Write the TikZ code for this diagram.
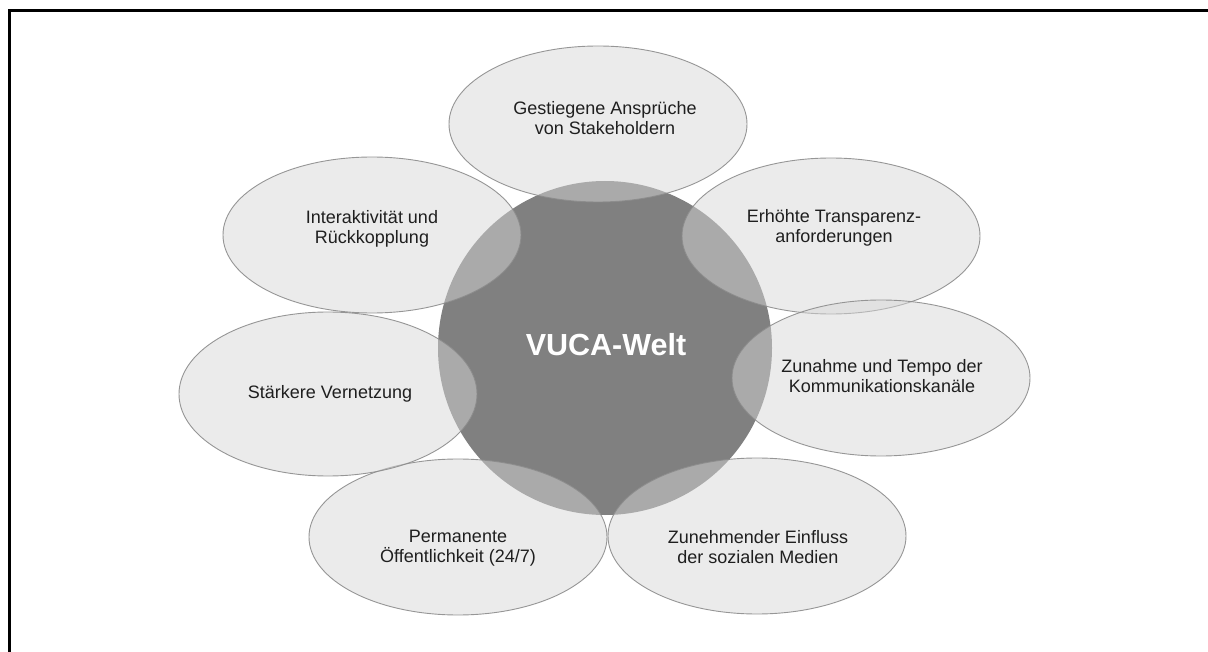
\documentclass[tikz,border=0pt]{standalone}
\usepackage{fontspec}
\setmainfont{Liberation Sans}
\usetikzlibrary{shapes.geometric, positioning}
\definecolor{petalFill}{HTML}{D6D6D6}
\definecolor{petalLine}{HTML}{8C8C8C}
\definecolor{coreFill}{HTML}{808080}
\tikzset{
  vucaCore/.style={circle, minimum size=334pt, inner sep=0pt, fill=coreFill, draw=none},
  vucaPetal/.style={ellipse, inner sep=0pt, minimum width=298pt, minimum height=156pt, fill=petalFill, fill opacity=0.49, draw=petalLine, draw opacity=0.9, line width=0.9pt},
  vucaText/.style={align=center, font=\fontsize{18}{20}\selectfont, text=black!88},
  vucaTitle/.style={align=center, font=\fontsize{30.5}{34}\selectfont\bfseries, text=white},
}
\begin{document}
\begin{tikzpicture}[x=1pt, y=-1pt]
\useasboundingbox (0,0) rectangle (1208,652);
\clip (0,0) rectangle (1208,652);
\draw [line width=3pt] (9.5,11) rectangle (1230,680);

\node (core) [vucaCore] at (605,348) {};

% petals around the core
\node (stake) [vucaPetal] at (598,124) {};
\node (transp) [vucaPetal] at (831,236) {};
\node (kanal) [vucaPetal] at (881,378) {};
\node (medien) [vucaPetal] at (757,536) {};
\node (public) [vucaPetal] at (458,537) {};
\node (netz) [vucaPetal, minimum height=164pt] at (328,394) {};
\node (inter) [vucaPetal] at (372,235) {};

% labels
\node (coreTxt) [vucaTitle] at (606,345) {VUCA-Welt};
\node (stakeTxt) [vucaText] at (605,118) {Gestiegene Ansprüche\\von Stakeholdern};
\node (transpTxt) [vucaText] at (834,228) {Erhöhte Transparenz-\\anforderungen};
\node (kanalTxt) [vucaText] at (882,376) {Zunahme und Tempo der\\Kommunikationskanäle};
\node (medienTxt) [vucaText] at (758,547) {Zunehmender Einfluss\\der sozialen Medien};
\node (publicTxt) [vucaText] at (458,548) {Permanente\\Öffentlichkeit (24/7)};
\node (netzTxt) [vucaText] at (330,394) {Stärkere Vernetzung};
\node (interTxt) [vucaText] at (372,229) {Interaktivität und\\Rückkopplung};
\end{tikzpicture}
\end{document}
